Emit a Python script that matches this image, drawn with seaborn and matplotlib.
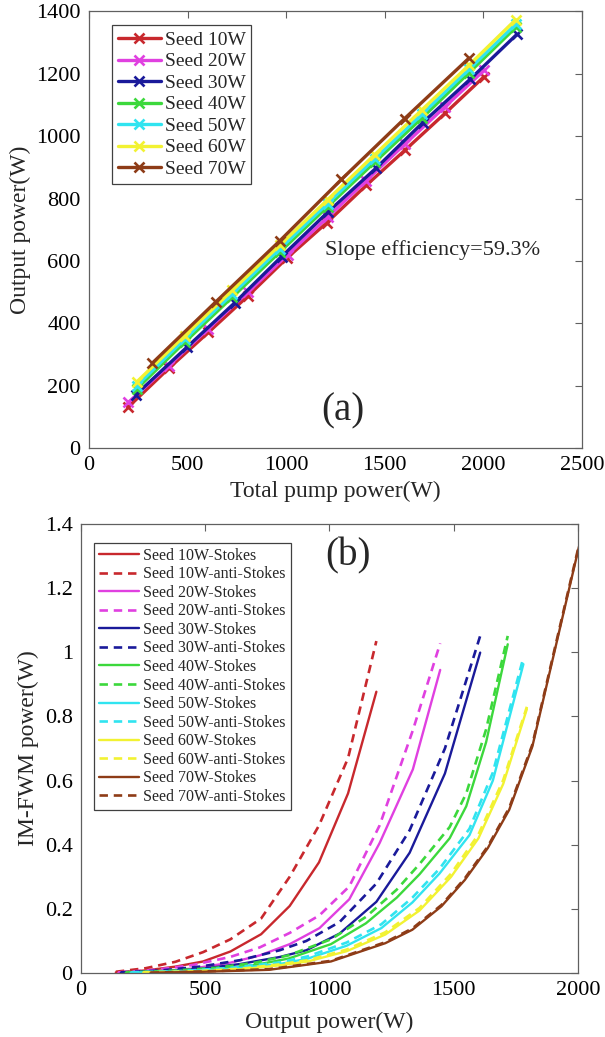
import matplotlib
matplotlib.use("Agg")
import matplotlib.pyplot as plt
import seaborn as sns
from matplotlib.ticker import FuncFormatter, MultipleLocator

sns.set_theme(style="white")
plt.rcParams['font.family'] = ['Liberation Serif', 'DejaVu Serif']
plt.rcParams['mathtext.fontset'] = 'stix'

# ---------------- data: panel (a) ----------------
seeds = ["Seed 10W", "Seed 20W", "Seed 30W", "Seed 40W", "Seed 50W", "Seed 60W", "Seed 70W"]
colors = ["#C8282D", "#E040E0", "#1A1A9A", "#3CD83C", "#30E4F0", "#F2F232", "#8E3C17"]

pump_10 = [197, 404, 606, 807, 1004, 1207, 1407, 1604, 1807, 2002]
out_10 = [130, 255, 371, 488, 609, 723, 843, 956, 1074, 1190]
pump_20 = [200, 404, 606, 808, 1008, 1210, 1405, 1603, 1803, 2005]
out_20 = [146, 264, 383, 501, 620, 740, 857, 975, 1093, 1212]
pump_30 = [238, 498, 740, 977, 1214, 1455, 1692, 1932, 2169]
out_30 = [171, 324, 466, 614, 758, 897, 1043, 1182, 1326]
pump_40 = [243, 485, 727, 967, 1210, 1448, 1688, 1928, 2166]
out_40 = [190, 339, 484, 628, 774, 916, 1058, 1204, 1350]
pump_50 = [243, 485, 727, 967, 1210, 1448, 1688, 1928, 2166]
out_50 = [200, 349, 494, 638, 784, 927, 1070, 1215, 1360]
pump_60 = [243, 485, 727, 967, 1210, 1448, 1688, 1928, 2163]
out_60 = [212, 360, 506, 650, 796, 940, 1084, 1228, 1373]
pump_70 = [321, 644, 969, 1280, 1600, 1925]
out_70 = [272, 469, 665, 861, 1056, 1249]

pumps = [pump_10, pump_20, pump_30, pump_40, pump_50, pump_60, pump_70]
outs = [out_10, out_20, out_30, out_40, out_50, out_60, out_70]

# ---------------- data: panel (b) ----------------
xb_10 = [140, 260, 380, 491, 601, 725, 840, 958, 1075, 1189]
s_10 = [0.002, 0.008, 0.020, 0.036, 0.067, 0.121, 0.209, 0.345, 0.560, 0.877]
as_10 = [0.004, 0.015, 0.035, 0.065, 0.105, 0.170, 0.300, 0.460, 0.670, 1.035]

xb_20 = [150, 300, 450, 600, 720, 840, 960, 1080, 1202, 1336, 1446]
s_20 = [0.001, 0.005, 0.014, 0.032, 0.055, 0.090, 0.140, 0.230, 0.405, 0.635, 0.945]
as_20 = [0.002, 0.010, 0.025, 0.050, 0.080, 0.125, 0.180, 0.270, 0.460, 0.757, 1.028]

xb_30 = [160, 320, 480, 640, 800, 907, 1041, 1189, 1323, 1465, 1607]
s_30 = [0.001, 0.005, 0.013, 0.028, 0.050, 0.071, 0.123, 0.222, 0.375, 0.622, 0.999]
as_30 = [0.002, 0.008, 0.020, 0.040, 0.071, 0.100, 0.159, 0.279, 0.445, 0.700, 1.051]

xb_40 = [180, 360, 540, 700, 835, 1006, 1147, 1271, 1363, 1484, 1551, 1631, 1718]
s_40 = [0.001, 0.005, 0.012, 0.025, 0.045, 0.090, 0.155, 0.235, 0.308, 0.420, 0.520, 0.720, 1.025]
as_40 = [0.002, 0.007, 0.016, 0.032, 0.055, 0.105, 0.175, 0.260, 0.340, 0.455, 0.560, 0.760, 1.051]

xb_50 = [200, 400, 600, 800, 913, 1069, 1209, 1334, 1443, 1564, 1658, 1781]
s_50 = [0.001, 0.005, 0.013, 0.028, 0.045, 0.085, 0.140, 0.220, 0.310, 0.430, 0.600, 0.963]
as_50 = [0.002, 0.006, 0.016, 0.033, 0.052, 0.095, 0.152, 0.235, 0.325, 0.450, 0.625, 0.984]

xb_60 = [250, 450, 650, 800, 913, 1069, 1225, 1363, 1490, 1600, 1700, 1795]
s_60 = [0.001, 0.004, 0.012, 0.024, 0.036, 0.068, 0.120, 0.195, 0.300, 0.420, 0.590, 0.823]
as_60 = [0.002, 0.005, 0.014, 0.027, 0.040, 0.073, 0.127, 0.203, 0.310, 0.432, 0.602, 0.830]

xb_70 = [280, 500, 757, 1006, 1225, 1334, 1451, 1545, 1638, 1724, 1817, 1911, 2005]
s_70 = [0.001, 0.004, 0.010, 0.036, 0.093, 0.135, 0.208, 0.290, 0.390, 0.509, 0.706, 1.018, 1.330]
as_70 = [0.001, 0.005, 0.012, 0.038, 0.096, 0.139, 0.212, 0.295, 0.395, 0.515, 0.712, 1.024, 1.335]

xbs = [xb_10, xb_20, xb_30, xb_40, xb_50, xb_60, xb_70]
stokes = [s_10, s_20, s_30, s_40, s_50, s_60, s_70]
antistokes = [as_10, as_20, as_30, as_40, as_50, as_60, as_70]

# ---------------- figure ----------------
fig = plt.figure(figsize=(6.05, 10.37), dpi=100)
ax1 = fig.add_axes([0.147, 0.568, 0.815, 0.421])
ax2 = fig.add_axes([0.134, 0.0617, 0.821, 0.433])

def style_axes(ax):
    for sp in ax.spines.values():
        sp.set_color("#606060")
        sp.set_linewidth(0.9)
    ax.tick_params(direction="in", top=True, right=True, length=5, width=0.8,
                   color="#606060", labelsize=16, labelcolor="black", pad=6)

# panel (a)
for name, col, xp, yp in zip(seeds, colors, pumps, outs):
    sns.lineplot(x=xp, y=yp, ax=ax1, color=col, marker="x", markersize=6.5,
                 markeredgewidth=1.9, markeredgecolor=col, markerfacecolor=col,
                 linewidth=2.4, label=name, sort=False)
ax1.set_xlim(0, 2500)
ax1.set_ylim(0, 1400)
ax1.xaxis.set_major_locator(MultipleLocator(500))
ax1.yaxis.set_major_locator(MultipleLocator(200))
style_axes(ax1)
ax1.set_xlabel("Total pump power(W)", fontsize=17, labelpad=4)
ax1.set_ylabel("Output power(W)", fontsize=17, labelpad=4)
ax1.text(1197, 635, "Slope efficiency=59.3%", fontsize=16, ha="left", va="center")
ax1.text(1290, 120, "(a)", fontsize=28, ha="center", va="center")
leg1 = ax1.legend(loc="upper left", bbox_to_anchor=(0.047, 0.968), borderaxespad=0,
                  fontsize=14, frameon=True, fancybox=False, edgecolor="#404040",
                  framealpha=1, handlelength=2.2, handletextpad=0.2,
                  labelspacing=0.2, borderpad=0.3)
leg1.get_frame().set_linewidth(0.9)

# panel (b)
for name, col, xv, sv, av in zip(seeds, colors, xbs, stokes, antistokes):
    sns.lineplot(x=xv, y=sv, ax=ax2, color=col, linewidth=1.7,
                 label=name + "-Stokes", sort=False)
    sns.lineplot(x=xv, y=av, ax=ax2, color=col, linewidth=1.9,
                 label=name + "-anti-Stokes", sort=False)
    ax2.lines[-1].set_dashes((3.2, 2.2))
ax2.set_xlim(0, 2000)
ax2.set_ylim(0, 1.4)
ax2.xaxis.set_major_locator(MultipleLocator(500))
ax2.yaxis.set_major_locator(MultipleLocator(0.2))
ax2.yaxis.set_major_formatter(FuncFormatter(lambda v, p: f"{v:g}"))
style_axes(ax2)
ax2.set_xlabel("Output power(W)", fontsize=17, labelpad=8)
ax2.set_ylabel("IM-FWM power(W)", fontsize=17, labelpad=4)
ax2.text(1076, 1.30, "(b)", fontsize=28, ha="center", va="center")
leg2 = ax2.legend(loc="upper left", bbox_to_anchor=(0.026, 0.958), borderaxespad=0,
                  fontsize=11.5, frameon=True, fancybox=False, edgecolor="#404040",
                  framealpha=1, handlelength=2.5, handletextpad=0.3,
                  labelspacing=0.16, borderpad=0.3)
leg2.get_frame().set_linewidth(0.9)
for h in leg2.get_lines()[1::2]:
    h.set_dashes((3.2, 2.2))

fig.savefig("out.png", dpi=100)
